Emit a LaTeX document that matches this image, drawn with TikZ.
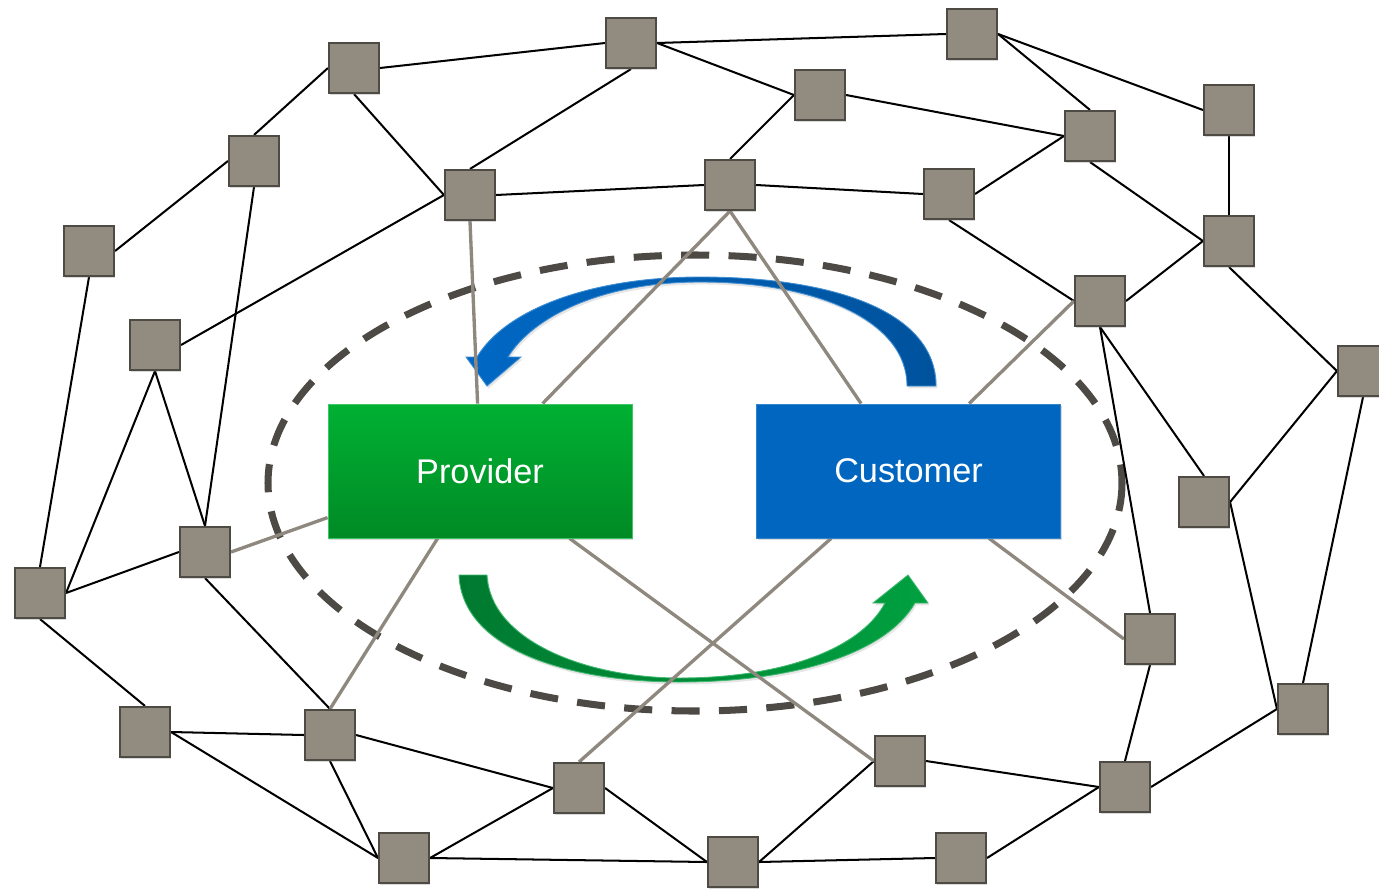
\documentclass[tikz,border=0pt]{standalone}
\usepackage{fontspec}
\setmainfont{Liberation Sans}
\usetikzlibrary{shadows,calc}
\definecolor{nodefill}{HTML}{928B80}
\definecolor{nodeline}{HTML}{4E4A44}
\definecolor{linkgray}{HTML}{8F887E}
\definecolor{ringgray}{HTML}{4D4A45}
\definecolor{provtop}{HTML}{00B133}
\definecolor{provbot}{HTML}{008A25}
\definecolor{custblue}{HTML}{0066C0}
\definecolor{arrblue}{HTML}{0068C4}
\definecolor{arrbluedark}{HTML}{00529C}
\definecolor{arrgreen}{HTML}{00A040}
\definecolor{arrgreendark}{HTML}{007A30}
\pgfdeclarelayer{bg}
\pgfsetlayers{bg,main}
\begin{document}
\begin{tikzpicture}[x=0.02cm, y=-0.02cm,
  router/.style={draw=nodeline, line width=1.2pt, fill=nodefill,
    minimum size=1cm, inner sep=0pt,
    drop shadow={shadow xshift=0.8pt, shadow yshift=-1.4pt, opacity=0.3}},
  rolebox/.style={minimum width=6.08cm, minimum height=2.68cm, inner sep=0pt,
    text=white, font=\fontsize{19.5}{23}\selectfont,
    drop shadow={shadow xshift=0.8pt, shadow yshift=-1.4pt, opacity=0.3}},
  link/.style={black, line width=1.15pt},
  graylink/.style={linkgray, line width=1.9pt},
  ring/.style={ringgray, line width=4pt, dash pattern=on 16pt off 11pt}]
\useasboundingbox (0,0) rectangle (1379,889);

% network routers
\node[router] (n1)  at (354,68)  {};
\node[router] (n2)  at (631,43)  {};
\node[router] (n3)  at (972,34)  {};
\node[router] (n4)  at (820,95)  {};
\node[router] (n5)  at (1229,110) {};
\node[router] (n6)  at (1090,136) {};
\node[router] (n7)  at (254,161) {};
\node[router] (n8)  at (470,195) {};
\node[router] (n9)  at (730,185) {};
\node[router] (n10) at (949,194) {};
\node[router] (n11) at (89,251)  {};
\node[router] (n12) at (1229,241) {};
\node[router] (n13) at (1100,301) {};
\node[router] (n14) at (155,345) {};
\node[router] (n15) at (1363,371) {};
\node[router] (n16) at (1204,502) {};
\node[router] (n17) at (205,552) {};
\node[router] (n18) at (40,593)  {};
\node[router] (n19) at (1150,639) {};
\node[router] (n20) at (145,732) {};
\node[router] (n21) at (330,735) {};
\node[router] (n22) at (1303,709) {};
\node[router] (n23) at (900,761) {};
\node[router] (n24) at (579,788) {};
\node[router] (n25) at (1125,787) {};
\node[router] (n26) at (404,858) {};
\node[router] (n27) at (733,862) {};
\node[router] (n28) at (961,858) {};

% the two parties
\node[rolebox, top color=provtop, bottom color=provbot, draw=provtop!75!white, line width=0.5pt]
  (prov) at (480,471) {Provider};
\node[rolebox, fill=custblue, draw=custblue!80!white, line width=0.5pt]
  (cust) at (908.5,471) {Customer};

\begin{pgfonlayer}{bg}
  % dashed ring round both parties
  \draw[ring] (695,483) ellipse [x radius=427, y radius=228];

  % curved arrow: customer back to provider
  \path[left color=arrblue, middle color=arrblue, right color=arrbluedark,
        draw=arrblue!75!white, line width=0.5pt,
        drop shadow={shadow xshift=0.8pt, shadow yshift=-1.4pt, opacity=0.2}]
    (936,386) -- (907,386)
    .. controls (907,322) and (820,282) .. (700,282)
    .. controls (600,282) and (532,318) .. (508,357)
    -- (521,357) -- (487,386) -- (466,357) -- (477,357)
    .. controls (505,310) and (590,277) .. (700,277)
    .. controls (835,277) and (936,312) .. (936,386) -- cycle;

  % curved arrow: provider on to customer
  \path[left color=arrgreendark, middle color=arrgreen, right color=arrgreen,
        draw=arrgreen!75!white, line width=0.5pt,
        drop shadow={shadow xshift=0.8pt, shadow yshift=-1.4pt, opacity=0.2}]
    (459,575) -- (487,575)
    .. controls (490,640) and (585,678) .. (680,678)
    .. controls (780,678) and (860,650) .. (885,603)
    -- (873,603) -- (908,575) -- (928,603) -- (915,603)
    .. controls (885,655) and (790,682) .. (680,682)
    .. controls (570,682) and (462,650) .. (459,575) -- cycle;

  % network links
  \draw[link] (n1.east) -- (n2.west);
  \draw[link] (n1.west) -- (n7.north);
  \draw[link] (n1.south) -- (n8.west);
  \draw[link] (n2.east) -- (n3.west);
  \draw[link] (n2.east) -- (n4.west);
  \draw[link] (n2.south) -- (n8.north);
  \draw[link] (n3.east) -- (n6.north);
  \draw[link] (n3.east) -- (n5.west);
  \draw[link] (n4.west) -- (n9.north);
  \draw[link] (n4.east) -- (n6.west);
  \draw[link] (n6.west) -- (n10.east);
  \draw[link] (n6.south) -- (n12.west);
  \draw[link] (n5.south) -- (n12.north);
  \draw[link] (n7.west) -- (n11.east);
  \draw[link] (n7.south) -- (n17.north);
  \draw[link] (n8.east) -- (n9.west);
  \draw[link] (n8.west) -- (n14.east);
  \draw[link] (n9.east) -- (n10.west);
  \draw[link] (n10.south) -- (n13.west);
  \draw[link] (n12.west) -- (n13.east);
  \draw[link] (n12.south) -- (n15.west);
  \draw[link] (n11.south) -- (n18.north);
  \draw[link] (n14.south) -- (n18.east);
  \draw[link] (n14.south) -- (n17.north);
  \draw[link] (n17.west) -- (n18.east);
  \draw[link] (n13.south) -- (n16.north);
  \draw[link] (n13.south) -- (n19.north);
  \draw[link] (n15.west) -- (n16.east);
  \draw[link] (n15.south) -- (n22.north);
  \draw[link] (n16.east) -- (n22.west);
  \draw[link] (n19.south) -- (n25.north);
  \draw[link] (n18.south) -- (n20.north);
  \draw[link] (n17.south) -- (n21.north);
  \draw[link] (n20.east) -- (n21.west);
  \draw[link] (n20.east) -- (n26.west);
  \draw[link] (n21.east) -- (n24.west);
  \draw[link] (n21.south) -- (n26.west);
  \draw[link] (n24.west) -- (n26.east);
  \draw[link] (n24.east) -- (n27.west);
  \draw[link] (n26.east) -- (n27.west);
  \draw[link] (n27.east) -- (n23.west);
  \draw[link] (n27.east) -- (n28.west);
  \draw[link] (n23.east) -- (n25.west);
  \draw[link] (n28.east) -- (n25.west);
  \draw[link] (n25.east) -- (n22.west);

  % links into the two parties
  \draw[graylink] (n8.south)  -- ($(prov.north west)+(150,0)$);
  \draw[graylink] (n9.south)  -- ($(prov.north west)+(215,0)$);
  \draw[graylink] (n17.east)  -- ($(prov.north west)+(0,114)$);
  \draw[graylink] (n21.north) -- ($(prov.south west)+(110,0)$);
  \draw[graylink] (n23.west)  -- ($(prov.south west)+(242,0)$);
  \draw[graylink] (n9.south)  -- ($(cust.north west)+(105,0)$);
  \draw[graylink] (n13.west)  -- ($(cust.north west)+(213,0)$);
  \draw[graylink] (n24.north) -- ($(cust.south west)+(75,0)$);
  \draw[graylink] (n19.west)  -- ($(cust.south west)+(233,0)$);
\end{pgfonlayer}
\end{tikzpicture}
\end{document}
